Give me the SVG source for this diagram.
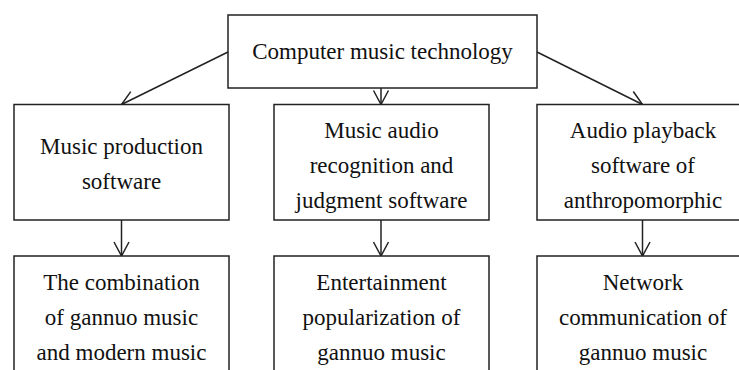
<svg xmlns="http://www.w3.org/2000/svg" width="739" height="370" viewBox="0 0 739 370">
<defs>
<style>
.box{fill:#fff;stroke:#222;stroke-width:1.5}
.t{font-family:'Liberation Serif','Times New Roman',Times,'DejaVu Serif',serif;font-size:23px;fill:#111;text-anchor:middle}
.c{fill:none;stroke:#222;stroke-width:1.5}
</style>
<marker id="ah" markerUnits="userSpaceOnUse" markerWidth="20" markerHeight="20" viewBox="-16 -10 20 20" refX="0" refY="0" orient="auto">
<path d="M-14,-7.5 L0,0 L-14,7.5" fill="none" stroke="#222" stroke-width="1.5"/>
</marker>
</defs>
<rect width="739" height="370" fill="#fff"/>
<g id="connectors">
<line class="c" x1="228" y1="52" x2="121.5" y2="104.5" marker-end="url(#ah)"/>
<line class="c" x1="381" y1="88" x2="381" y2="104.5" marker-end="url(#ah)"/>
<line class="c" x1="537" y1="52" x2="642.5" y2="104.5" marker-end="url(#ah)"/>
<line class="c" x1="121.5" y1="220" x2="121.5" y2="256" marker-end="url(#ah)"/>
<line class="c" x1="381" y1="220" x2="381" y2="256" marker-end="url(#ah)"/>
<line class="c" x1="642.5" y1="220" x2="642.5" y2="256" marker-end="url(#ah)"/>
</g>
<g id="n0">
<rect class="box" x="228" y="15" width="309" height="73"/>
<text class="t" x="382.5" y="59" font-family="Liberation Serif, serif">Computer music technology</text>
</g>
<g id="n1">
<rect class="box" x="14" y="104.5" width="215" height="115.5"/>
<text class="t" x="121.5" y="154">Music production</text>
<text class="t" x="121.5" y="189">software</text>
</g>
<g id="n2">
<rect class="box" x="274" y="104.5" width="215" height="115.5"/>
<text class="t" x="381.5" y="138">Music audio</text>
<text class="t" x="381.5" y="173">recognition and</text>
<text class="t" x="381.5" y="208">judgment software</text>
</g>
<g id="n3">
<rect class="box" x="537" y="104.5" width="215" height="115.5"/>
<text class="t" x="643" y="138">Audio playback</text>
<text class="t" x="643" y="173">software of</text>
<text class="t" x="643" y="208">anthropomorphic</text>
</g>
<g id="n4">
<rect class="box" x="14" y="256" width="215" height="130"/>
<text class="t" x="121.5" y="290">The combination</text>
<text class="t" x="121.5" y="325">of gannuo music</text>
<text class="t" x="121.5" y="360">and modern music</text>
</g>
<g id="n5">
<rect class="box" x="274" y="256" width="215" height="130"/>
<text class="t" x="381.5" y="290">Entertainment</text>
<text class="t" x="381.5" y="325">popularization of</text>
<text class="t" x="381.5" y="360">gannuo music</text>
</g>
<g id="n6">
<rect class="box" x="537" y="256" width="215" height="130"/>
<text class="t" x="643" y="290">Network</text>
<text class="t" x="643" y="325">communication of</text>
<text class="t" x="643" y="360">gannuo music</text>
</g>
</svg>
